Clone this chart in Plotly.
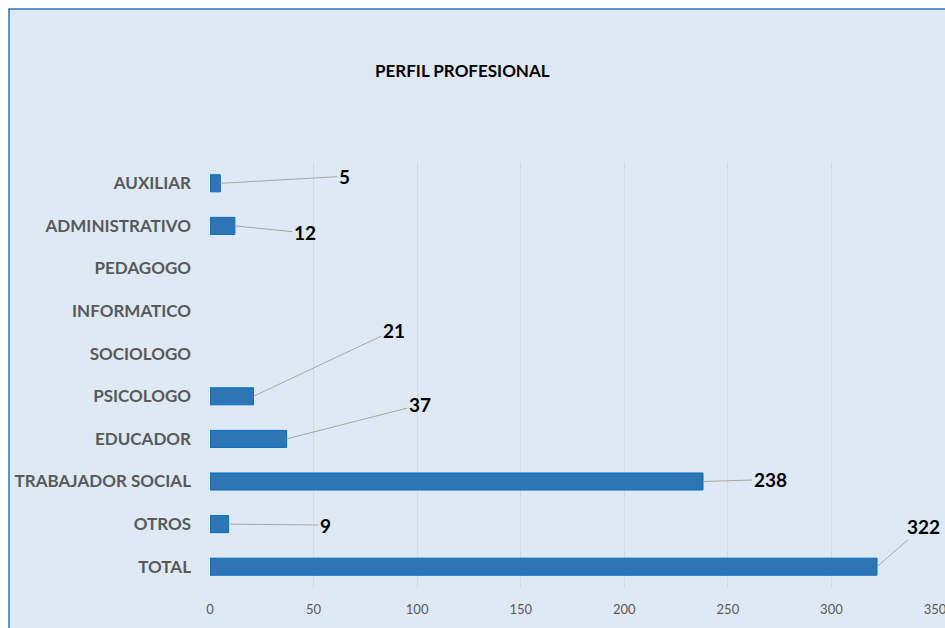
import plotly.graph_objects as go

categories = ["AUXILIAR", "ADMINISTRATIVO", "PEDAGOGO", "INFORMATICO", "SOCIOLOGO",
              "PSICOLOGO", "EDUCADOR", "TRABAJADOR SOCIAL", "OTROS", "TOTAL"]
values = [5, 12, None, None, None, 21, 37, 238, 9, 322]
x_ticks = [0, 50, 100, 150, 200, 250, 300, 350]

# pixel offsets of the data labels (styling only)
label_offsets = [(124, -7), (70, 7), None, None, None, (140, -66), (133, -34), (67, -2), (97, 1), (46, -40)]

BG = "#dee9f5"
FONT = "Lato, 'Open Sans', sans-serif"

fig = go.Figure()
fig.add_trace(go.Bar(
    x=values, y=categories, orientation="h",
    marker=dict(color="#2e75b6", line=dict(color="#0070c0", width=1)),
    width=0.4, hoverinfo="x+y",
))

for cat, val, off in zip(categories, values, label_offsets):
    if val is None or off is None:
        continue
    fig.add_annotation(
        x=val, y=cat, xref="x", yref="y", text=f"<b>{val}</b>",
        showarrow=True, arrowhead=0, arrowwidth=1, arrowcolor="#a6a6a6",
        ax=off[0], ay=off[1], standoff=0, startstandoff=0,
        font=dict(family=FONT, size=19, color="#000000"),
    )

fig.add_annotation(
    x=(462 - 210) / 725, y=(588 - 71) / 426, xref="paper", yref="paper",
    text="<b>PERFIL PROFESIONAL</b>", showarrow=False,
    font=dict(family=FONT, size=17, color="#000000"),
    xanchor="center", yanchor="middle",
)

fig.add_shape(
    type="rect", xref="paper", yref="paper", layer="below",
    x0=(9 - 210) / 725, x1=(980 - 210) / 725,
    y0=(588 - 660) / 426, y1=(588 - 9) / 426,
    fillcolor=BG, line=dict(color="#2e75b6", width=1.5),
)

fig.update_layout(
    width=945, height=628,
    margin=dict(l=210, r=10, t=162, b=40, autoexpand=False),
    paper_bgcolor="#ffffff", plot_bgcolor="rgba(0,0,0,0)",
    showlegend=False,
    font=dict(family=FONT),
    xaxis=dict(
        range=[0, 350], autorange=False, tickvals=x_ticks, ticktext=[str(t) for t in x_ticks],
        showgrid=True, gridcolor="#d4d9df", gridwidth=1,
        zeroline=False, showline=False, automargin=False,
        tickfont=dict(family=FONT, size=13, color="#595959"),
        ticks="", ticklabelstandoff=12, ticklabeloverflow="allow", fixedrange=True,
    ),
    yaxis=dict(
        range=[len(categories) - 0.5, -0.5], autorange=False,
        categoryorder="array", categoryarray=categories,
        showgrid=False, zeroline=False, showline=False, ticks="", automargin=False,
        tickfont=dict(family=FONT, size=17, color="#595959", weight="bold"),
        ticklabelstandoff=18, fixedrange=True,
    ),
)

fig.write_html("out.html", config={"displayModeBar": False},
               post_script="document.body.style.margin='0';")
